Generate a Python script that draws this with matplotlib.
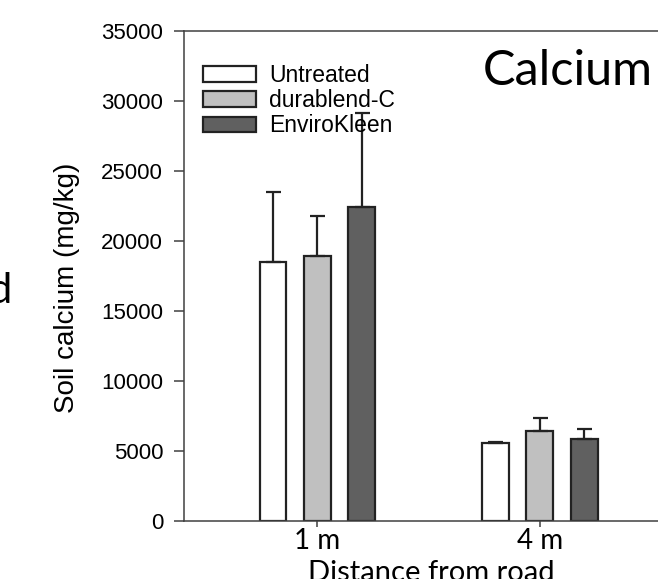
import numpy as np
import matplotlib
matplotlib.use("Agg")
import matplotlib.pyplot as plt

# --- DATA ---
distances = ["1 m", "4 m"]
treatments = ["Untreated", "durablend-C", "EnviroKleen"]
untreated = [18520, 5570]
durablend = [18950, 6400]
envirokleen = [22430, 5830]
untreated_err = [5000, 70]
durablend_err = [2840, 980]
envirokleen_err = [6690, 760]

means = [untreated, durablend, envirokleen]
errs = [untreated_err, durablend_err, envirokleen_err]
colors = ["#ffffff", "#c0c0c0", "#606060"]

SANS = "Liberation Sans"
CAL = "Lato"

fig = plt.figure(figsize=(6.58, 5.79), dpi=100)
ax = fig.add_axes([184 / 658, 1 - 521 / 579, 516 / 658, 490 / 579])

x = np.arange(len(distances))
width = 0.121
offsets = [-0.2, 0.0, 0.2]

for i, name in enumerate(treatments):
    ax.bar(x + offsets[i], means[i], width, color=colors[i], edgecolor="#222222",
           linewidth=1.6, label=name, zorder=2)
    ax.errorbar(x + offsets[i], means[i], yerr=[np.zeros(len(x)), errs[i]],
                fmt="none", ecolor="#222222", elinewidth=1.6, capsize=5.4,
                capthick=1.6, zorder=3)

ax.set_xlim(-0.6, 1.72)
ax.set_ylim(0, 35000)
ax.set_yticks(np.arange(0, 35001, 5000))
ax.set_yticklabels([str(v) for v in range(0, 35001, 5000)], fontfamily=SANS, fontsize=16)
ax.set_xticks(x)
ax.set_xticklabels(distances, fontfamily=CAL, fontsize=20)

for s in ["left", "bottom", "top"]:
    ax.spines[s].set_color("#404040")
    ax.spines[s].set_linewidth(1.1)
ax.spines["right"].set_visible(False)
ax.tick_params(axis="y", direction="out", length=7, width=1.1, color="#404040", pad=8)
ax.tick_params(axis="x", direction="out", length=4, width=1.1, color="#404040", pad=1)

leg = ax.legend(loc="upper left", bbox_to_anchor=(0.0368, 0.932), frameon=False,
                borderpad=0, borderaxespad=0, handlelength=2.3, handleheight=0.68,
                handletextpad=0.6, labelspacing=0.09, prop={"family": SANS, "size": 16.5})

fig.text(653 / 658, 1 - 85 / 579, "Calcium", family=CAL, fontsize=35,
         ha="right", va="baseline")
fig.text(67 / 658, 1 - 287.5 / 579, "Soil calcium (mg/kg)", family=SANS, fontsize=20,
         rotation=90, ha="center", va="center")
fig.text(431.5 / 658, 1 - 581 / 579, "Distance from road", family=CAL, fontsize=21,
         ha="center", va="baseline")
fig.text(12 / 658, 1 - 303 / 579, "d", family=CAL, fontsize=30, ha="right", va="baseline")

fig.savefig("out.png", dpi=100)
